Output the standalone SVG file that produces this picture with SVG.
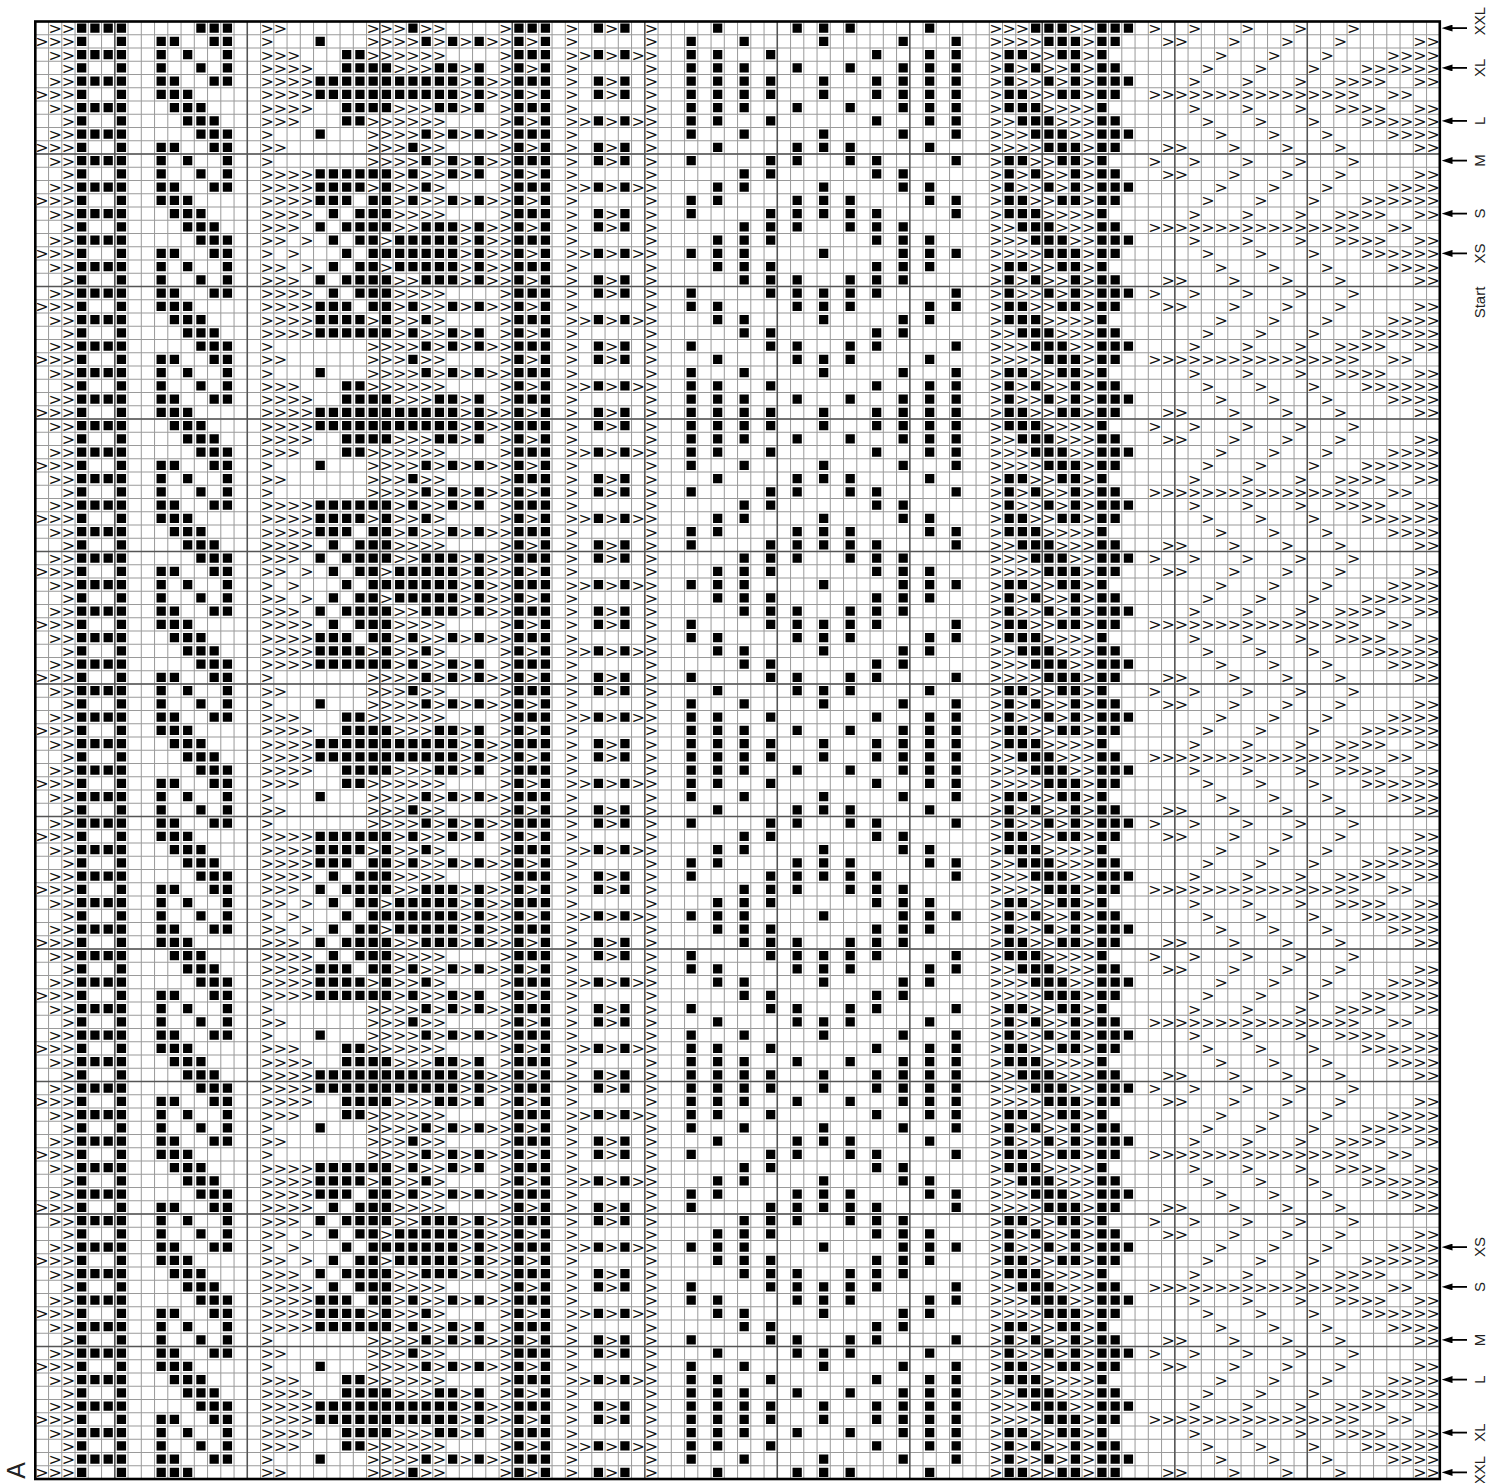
<svg xmlns="http://www.w3.org/2000/svg" width="1503" height="1483" viewBox="0 0 1503 1483">
<style>
.s{fill:none;stroke:#000;stroke-width:.7;stroke-dasharray:.7 .3}
.e{fill:none;stroke:#000;stroke-width:.7;stroke-dasharray:.7 1.3}
.g{font-family:"DejaVu Sans",sans-serif;font-size:1.21px;text-anchor:middle;fill:#111}
.lb{font-family:"Liberation Sans",Arial,sans-serif;font-size:15px;text-anchor:middle;fill:#222}
.ar{stroke:#000;stroke-width:1.8;marker-end:url(#ah)}
</style>
<defs>
<marker id="ah" markerUnits="userSpaceOnUse" markerWidth="11" markerHeight="7" refX="4.5" refY="3.5" orient="auto"><path d="M0 0L11 3.5L0 7z" fill="#000"/></marker>
<clipPath id="cl"><rect width="106" height="110"/></clipPath>
<g id="t4">
<path class="s" d="M3.15 .5H6.85M3.15 1.5h.7M6.15 1.5h.7M3.15 2.5H6.85M3.15 3.5h.7M6.15 3.5h.7"/>
<text class="g" x="1.5 2.5" y=".96">&gt;&gt;</text>
<text class="g" x=".5 1.5 2.5" y="1.96">&gt;&gt;&gt;</text>
<text class="g" x="1.5 2.5" y="2.96">&gt;&gt;</text>
<text class="g" x="2.5" y="3.96">&gt;</text>
</g>
<g id="t5">
<path class="e" d="M42.15 .5H44.85M42.15 2.5H44.85M42.15 4.5H44.85"/>
<text class="g" x="40.5 43.5 46.5" y=".96">&gt;&gt;&gt;</text>
<text class="g" x="40.5 46.5" y="1.96">&gt;&gt;</text>
<text class="g" x="40.5 41.5 43.5 45.5 46.5" y="2.96">&gt;&gt;&gt;&gt;&gt;</text>
<text class="g" x="40.5 46.5" y="3.96">&gt;&gt;</text>
<text class="g" x="40.5 43.5 46.5" y="4.96">&gt;&gt;&gt;</text>
</g>
<g id="t8">
<path class="s" d="M12.15 .5H14.85M9.15 1.5H10.85M13.15 1.5H14.85M9.15 2.5h.7M11.15 2.5h.7M14.15 2.5h.7M9.15 3.5h.7M12.15 3.5h.7M14.15 3.5h.7M9.15 4.5H10.85M13.15 4.5H14.85M9.15 5.5H11.85M10.15 6.5H12.85M11.15 7.5H13.85"/>
<path class="s" d="M75.15 .5H77.85M80.15 .5H82.85M76.15 1.5H78.85M80.15 1.5H81.85M73.15 2.5H74.85M77.15 2.5H78.85M80.15 2.5h.7M73.15 3.5h.7M75.15 3.5h.7M78.15 3.5h.7M80.15 3.5H81.85M73.15 4.5h.7M76.15 4.5h.7M78.15 4.5h.7M80.15 4.5H82.85M73.15 5.5H74.85M77.15 5.5H78.85M80.15 5.5H81.85M73.15 6.5H75.85M80.15 6.5h.7M74.15 7.5H76.85M80.15 7.5H81.85"/>
<text class="g" x="72.5 73.5 74.5 78.5 79.5" y=".96">&gt;&gt;&gt;&gt;&gt;</text>
<text class="g" x="72.5 73.5 74.5 75.5 79.5" y="1.96">&gt;&gt;&gt;&gt;&gt;</text>
<text class="g" x="72.5 75.5 76.5 79.5" y="2.96">&gt;&gt;&gt;&gt;</text>
<text class="g" x="72.5 74.5 76.5 77.5 79.5" y="3.96">&gt;&gt;&gt;&gt;&gt;</text>
<text class="g" x="72.5 74.5 75.5 77.5 79.5" y="4.96">&gt;&gt;&gt;&gt;&gt;</text>
<text class="g" x="72.5 75.5 76.5 79.5" y="5.96">&gt;&gt;&gt;&gt;</text>
<text class="g" x="72.5 76.5 77.5 78.5 79.5" y="6.96">&gt;&gt;&gt;&gt;&gt;</text>
<text class="g" x="72.5 73.5 77.5 78.5 79.5" y="7.96">&gt;&gt;&gt;&gt;&gt;</text>
</g>
<g id="t10">
<path class="s" d="M36.15 .5H38.85M36.15 2.5H38.85M36.15 4.5H38.85M36.15 6.5H38.85M36.15 8.5H38.85"/>
<path class="e" d="M36.15 1.5H38.85M36.15 3.5H38.85M36.15 5.5H38.85M36.15 7.5H38.85M36.15 9.5H38.85"/>
<text class="g" x="35.5 35.5 35.5 35.5 35.5 35.5 35.5 35.5 35.5 35.5" y=".96 1.96 2.96 3.96 4.96 5.96 6.96 7.96 8.96 9.96">&gt;&gt;&gt;&gt;&gt;&gt;&gt;&gt;&gt;&gt;</text>
<text class="g" x="37.5 37.5 37.5 37.5 37.5" y="1.96 3.96 5.96 7.96 9.96">&gt;&gt;&gt;&gt;&gt;</text>
<text class="g" x="84.5 87.5 91.5 95.5 99.5" y=".96">&gt;&gt;&gt;&gt;&gt;</text>
<text class="g" x="85.5 86.5 90.5 94.5 98.5 104.5 105.5" y="1.96">&gt;&gt;&gt;&gt;&gt;&gt;&gt;</text>
<text class="g" x="89.5 93.5 97.5 102.5 103.5 104.5 105.5" y="2.96">&gt;&gt;&gt;&gt;&gt;&gt;&gt;</text>
<text class="g" x="88.5 92.5 96.5 100.5 101.5 102.5 103.5 104.5 105.5" y="3.96">&gt;&gt;&gt;&gt;&gt;&gt;&gt;&gt;&gt;</text>
<text class="g" x="87.5 91.5 95.5 98.5 99.5 100.5 101.5 104.5 105.5" y="4.96">&gt;&gt;&gt;&gt;&gt;&gt;&gt;&gt;&gt;</text>
<text class="g" x="84.5 85.5 86.5 87.5 88.5 89.5 90.5 91.5 92.5 93.5 94.5 95.5 96.5 97.5 98.5 99.5 102.5 103.5" y="5.96">&gt;&gt;&gt;&gt;&gt;&gt;&gt;&gt;&gt;&gt;&gt;&gt;&gt;&gt;&gt;&gt;&gt;&gt;</text>
<text class="g" x="87.5 91.5 95.5 98.5 99.5 100.5 101.5 104.5 105.5" y="6.96">&gt;&gt;&gt;&gt;&gt;&gt;&gt;&gt;&gt;</text>
<text class="g" x="88.5 92.5 96.5 100.5 101.5 102.5 103.5 104.5 105.5" y="7.96">&gt;&gt;&gt;&gt;&gt;&gt;&gt;&gt;&gt;</text>
<text class="g" x="89.5 93.5 97.5 102.5 103.5 104.5 105.5" y="8.96">&gt;&gt;&gt;&gt;&gt;&gt;&gt;</text>
<text class="g" x="85.5 86.5 90.5 94.5 98.5 104.5 105.5" y="9.96">&gt;&gt;&gt;&gt;&gt;&gt;&gt;</text>
</g>
<g id="b40">
<use href="#t4"/><use href="#t4" y="4"/><use href="#t4" y="8"/><use href="#t4" y="12"/><use href="#t4" y="16"/><use href="#t4" y="20"/><use href="#t4" y="24"/><use href="#t4" y="28"/><use href="#t4" y="32"/><use href="#t4" y="36"/>
<use href="#t5"/><use href="#t5" y="5"/><use href="#t5" y="10"/><use href="#t5" y="15"/><use href="#t5" y="20"/><use href="#t5" y="25"/><use href="#t5" y="30"/><use href="#t5" y="35"/>
<use href="#t8"/><use href="#t8" y="8"/><use href="#t8" y="16"/><use href="#t8" y="24"/><use href="#t8" y="32"/>
<use href="#t10"/><use href="#t10" y="10"/><use href="#t10" y="20"/><use href="#t10" y="30"/>
</g>
<g id="ra0"><path class="e" d="M28.15 .5h.7M51.15 .5h.7M57.15 .5H61.85M67.15 .5h.7"/><text class="g" x="17.5 18.5 25.5 26.5 27.5 29.5 30.5" y=".96">&gt;&gt;&gt;&gt;&gt;&gt;&gt;</text></g>
<g id="ra1"><path class="e" d="M21.15 .5h.7M29.15 .5H33.85M49.15 .5h.7M53.15 .5h.7M59.15 .5h.7M65.15 .5h.7M69.15 .5h.7"/><text class="g" x="17.5 25.5 26.5 27.5 28.5 30.5 32.5 34.5" y=".96">&gt;&gt;&gt;&gt;&gt;&gt;&gt;&gt;</text></g>
<g id="ra2"><path class="s" d="M23.15 .5H24.85"/><path class="e" d="M49.15 .5H51.85M55.15 .5h.7M63.15 .5h.7M67.15 .5H69.85"/><text class="g" x="17.5 18.5 19.5 25.5 26.5 27.5 28.5 29.5 30.5" y=".96">&gt;&gt;&gt;&gt;&gt;&gt;&gt;&gt;&gt;</text></g>
<g id="ra3"><path class="s" d="M23.15 .5H26.85M30.15 .5H31.85M33.15 .5h.7"/><path class="e" d="M49.15 .5H53.85M57.15 .5h.7M61.15 .5h.7M65.15 .5H69.85"/><text class="g" x="17.5 18.5 19.5 20.5 27.5 28.5 29.5 32.5" y=".96">&gt;&gt;&gt;&gt;&gt;&gt;&gt;&gt;</text></g>
<g id="ra4"><path class="s" d="M21.15 .5H31.85M33.15 .5h.7"/><path class="e" d="M49.15 .5H55.85M59.15 .5h.7M63.15 .5H69.85"/><text class="g" x="17.5 18.5 19.5 20.5 32.5 34.5" y=".96">&gt;&gt;&gt;&gt;&gt;&gt;</text></g>
<g id="rb0"><path class="e" d="M29.15 .5H33.85M49.15 .5h.7M55.15 .5H57.85M61.15 .5H63.85M69.15 .5h.7"/><text class="g" x="17.5 25.5 26.5 27.5 28.5 30.5 32.5 34.5" y=".96">&gt;&gt;&gt;&gt;&gt;&gt;&gt;&gt;</text></g>
<g id="rb1"><path class="s" d="M21.15 .5H26.85M28.15 .5h.7"/><path class="e" d="M31.15 .5H33.85M53.15 .5H55.85M63.15 .5H65.85"/><text class="g" x="17.5 18.5 19.5 20.5 27.5 29.5 30.5 32.5" y=".96">&gt;&gt;&gt;&gt;&gt;&gt;&gt;&gt;</text></g>
<g id="rb2"><path class="s" d="M21.15 .5H24.85M26.15 .5h.7M29.15 .5h.7"/><path class="e" d="M51.15 .5H53.85M59.15 .5h.7M65.15 .5H67.85"/><text class="g" x="17.5 18.5 19.5 20.5 25.5 27.5 28.5 30.5" y=".96">&gt;&gt;&gt;&gt;&gt;&gt;&gt;&gt;</text></g>
<g id="rb3"><path class="s" d="M21.15 .5H23.85M25.15 .5H26.85M28.15 .5h.7"/><path class="e" d="M31.15 .5H33.85M49.15 .5H51.85M57.15 .5H61.85M67.15 .5H69.85"/><text class="g" x="17.5 18.5 19.5 20.5 27.5 29.5 30.5 32.5 34.5" y=".96">&gt;&gt;&gt;&gt;&gt;&gt;&gt;&gt;&gt;</text></g>
<g id="rb4"><path class="s" d="M22.15 .5h.7M24.15 .5H26.85"/><path class="e" d="M49.15 .5h.7M55.15 .5H63.85M69.15 .5h.7"/><text class="g" x="17.5 18.5 19.5 20.5 27.5 28.5 29.5 30.5" y=".96">&gt;&gt;&gt;&gt;&gt;&gt;&gt;&gt;</text></g>
<g id="rb5"><path class="s" d="M21.15 .5h.7M23.15 .5H26.85M29.15 .5H31.85M33.15 .5h.7"/><path class="e" d="M53.15 .5H57.85M61.15 .5H65.85"/><text class="g" x="17.5 18.5 19.5 27.5 28.5 32.5 34.5" y=".96">&gt;&gt;&gt;&gt;&gt;&gt;&gt;</text></g>
<g id="rb6"><path class="s" d="M22.15 .5h.7M24.15 .5H25.85M27.15 .5H31.85M33.15 .5h.7"/><path class="e" d="M51.15 .5H55.85M63.15 .5H67.85"/><text class="g" x="17.5 18.5 20.5 26.5 32.5 34.5" y=".96">&gt;&gt;&gt;&gt;&gt;&gt;</text></g>
<g id="rb7"><path class="s" d="M23.15 .5h.7M25.15 .5H31.85M33.15 .5h.7"/><path class="e" d="M49.15 .5H53.85M59.15 .5h.7M65.15 .5H69.85"/><text class="g" x="17.5 19.5 32.5 34.5" y=".96">&gt;&gt;&gt;&gt;</text></g>
<g id="tCE">
<use href="#ra0"/><use href="#ra1" y="1"/><use href="#ra2" y="2"/><use href="#ra3" y="3"/><use href="#ra4" y="4"/><use href="#ra4" y="5"/><use href="#ra3" y="6"/><use href="#ra2" y="7"/><use href="#ra1" y="8"/><use href="#ra0" y="9"/>
<use href="#rb0" y="10"/><use href="#rb1" y="11"/><use href="#rb2" y="12"/><use href="#rb3" y="13"/><use href="#rb4" y="14"/><use href="#rb5" y="15"/><use href="#rb6" y="16"/><use href="#rb7" y="17"/><use href="#rb6" y="18"/><use href="#rb5" y="19"/><use href="#rb4" y="20"/><use href="#rb3" y="21"/><use href="#rb2" y="22"/><use href="#rb1" y="23"/><use href="#rb0" y="24"/>
</g>
</defs>
<rect width="1503" height="1483" fill="#fff"/>
<g id="grid" fill="none">
<path d="M34.8 750.25H1440.5" stroke="#9a9a9a" stroke-width="1457.5" stroke-dasharray="1 12.25"/>
<path d="M737.55 21V1479.6" stroke="#9a9a9a" stroke-width="1404.5" stroke-dasharray="1 12.25"/>
<path d="M114.05 750.25H1440" stroke="#555" stroke-width="1457.5" stroke-dasharray="1.5 131"/>
<path d="M737.55 153.25V1480" stroke="#555" stroke-width="1404.5" stroke-dasharray="1.5 131"/>
</g>
<g id="chart" transform="translate(35.3 21.5) scale(13.25)">
<g clip-path="url(#cl)">
<use href="#b40"/><use href="#b40" y="40"/><use href="#b40" y="80"/>
<use href="#tCE"/><use href="#tCE" y="25"/><use href="#tCE" y="50"/><use href="#tCE" y="75"/><use href="#tCE" y="100"/>
</g>
</g>
<rect id="border" x="35.3" y="21.5" width="1404.5" height="1457.5" fill="none" stroke="#000" stroke-width="2.6"/>
<g id="arrows">
<line class="ar" x1="1467" y1="28.1" x2="1448" y2="28.1"/>
<line class="ar" x1="1467" y1="67.9" x2="1448" y2="67.9"/>
<line class="ar" x1="1467" y1="120.9" x2="1448" y2="120.9"/>
<line class="ar" x1="1467" y1="160.6" x2="1448" y2="160.6"/>
<line class="ar" x1="1467" y1="213.6" x2="1448" y2="213.6"/>
<line class="ar" x1="1467" y1="253.4" x2="1448" y2="253.4"/>
<line class="ar" x1="1467" y1="1247.1" x2="1448" y2="1247.1"/>
<line class="ar" x1="1467" y1="1286.9" x2="1448" y2="1286.9"/>
<line class="ar" x1="1467" y1="1339.9" x2="1448" y2="1339.9"/>
<line class="ar" x1="1467" y1="1379.6" x2="1448" y2="1379.6"/>
<line class="ar" x1="1467" y1="1432.6" x2="1448" y2="1432.6"/>
<line class="ar" x1="1467" y1="1472.4" x2="1448" y2="1472.4"/>
</g>
<g id="labels">
<text class="lb" transform="translate(1485 21) rotate(-90)">XXL</text>
<text class="lb" transform="translate(1485 67.9) rotate(-90)">XL</text>
<text class="lb" transform="translate(1485 120.9) rotate(-90)">L</text>
<text class="lb" transform="translate(1485 160.6) rotate(-90)">M</text>
<text class="lb" transform="translate(1485 213.6) rotate(-90)">S</text>
<text class="lb" transform="translate(1485 253.4) rotate(-90)">XS</text>
<text class="lb" transform="translate(1485 302.5) rotate(-90)">Start</text>
<text class="lb" transform="translate(1485 1247.1) rotate(-90)">XS</text>
<text class="lb" transform="translate(1485 1286.9) rotate(-90)">S</text>
<text class="lb" transform="translate(1485 1339.9) rotate(-90)">M</text>
<text class="lb" transform="translate(1485 1379.6) rotate(-90)">L</text>
<text class="lb" transform="translate(1485 1432.6) rotate(-90)">XL</text>
<text class="lb" transform="translate(1485 1470) rotate(-90)">XXL</text>
<text transform="translate(25 1470.5) rotate(-90)" style="font-family:'Liberation Sans',Arial,sans-serif;font-size:25px;text-anchor:middle;fill:#222">A</text>
</g>
</svg>
